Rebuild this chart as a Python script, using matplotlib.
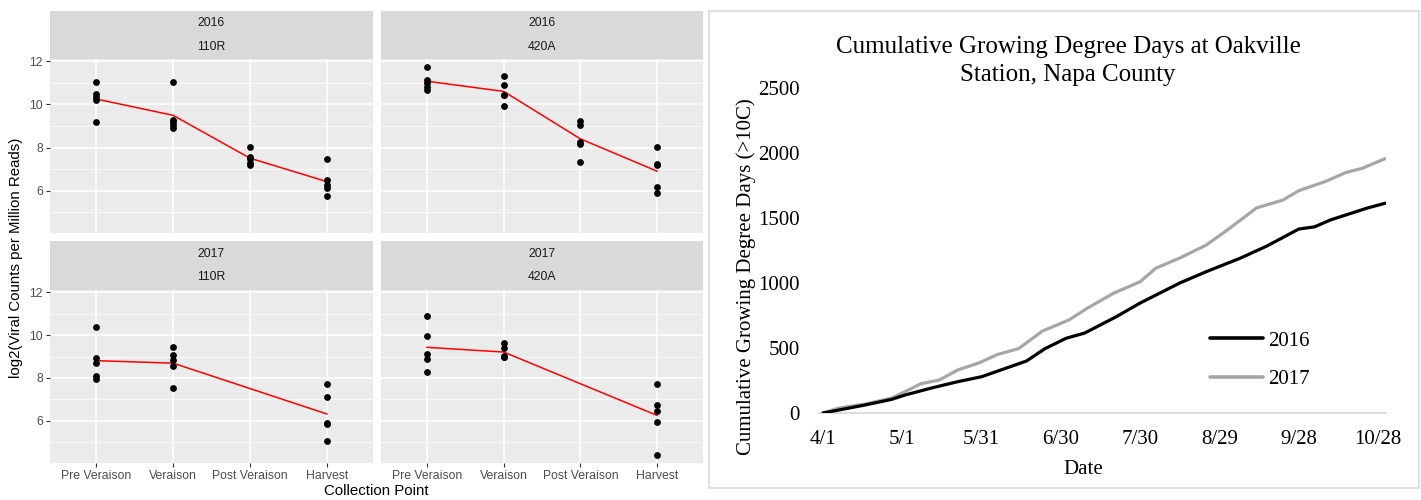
import numpy as np
import matplotlib
matplotlib.use('Agg')
import matplotlib.pyplot as plt
from matplotlib.patches import Rectangle

W, H = 1421, 500

# ---- left: viral load by collection point (facets year x rootstock) ----
stages = ["Pre Veraison", "Veraison", "Post Veraison", "Harvest"]
panel_years = ["2016", "2016", "2017", "2017"]
panel_rootstocks = ["110R", "420A", "110R", "420A"]

# log2 viral counts per million reads, one list per collection point
y16_110r = [[11.03, 10.50, 10.35, 10.20, 9.18],
            [11.03, 9.30, 9.20, 9.05, 8.90],
            [8.02, 7.55, 7.45, 7.30, 7.20],
            [7.48, 6.50, 6.25, 6.10, 5.75]]
y16_420a = [[11.74, 11.15, 11.00, 10.82, 10.68],
            [11.34, 10.89, 10.46, 10.42, 9.92],
            [9.23, 9.03, 8.26, 8.15, 7.34],
            [8.03, 7.23, 7.18, 6.18, 5.89]]
y17_110r = [[10.37, 8.93, 8.70, 8.08, 7.97],
            [9.43, 9.09, 8.85, 8.57, 7.53],
            [],
            [7.72, 7.10, 5.90, 5.83, 5.05]]
y17_420a = [[10.90, 9.98, 9.12, 8.88, 8.28],
            [9.63, 9.40, 9.05, 9.00, 8.98],
            [],
            [7.72, 6.76, 6.45, 5.94, 4.40]]

# ---- right: cumulative GDD, days counted from 4/1 ----
gdd_days_2016 = [0, 6, 16, 26, 31, 41, 51, 60, 69, 77, 84, 89, 92, 99, 111,
                 120, 135, 145, 158, 168, 180, 186, 192, 199, 206, 213]
gdd_2016 = [0, 23, 62, 105, 138, 192, 241, 279, 343, 400, 495, 545, 575, 615,
            741, 846, 1000, 1087, 1192, 1285, 1415, 1432, 1485, 1531, 1577, 1615]
gdd_days_2017 = [0, 6, 16, 26, 31, 37, 44, 51, 59, 66, 74, 83, 93, 100, 110,
                 120, 126, 135, 145, 153, 158, 164, 174, 180, 190, 198, 204, 213]
gdd_2017 = [0, 38, 69, 115, 164, 225, 254, 331, 385, 450, 495, 630, 715, 806,
            922, 1010, 1115, 1192, 1292, 1408, 1485, 1577, 1638, 1710, 1780,
            1851, 1882, 1959]
date_ticks = [0, 30, 60, 90, 120, 150, 180, 210]
date_labels = ["4/1", "5/1", "5/31", "6/30", "7/30", "8/29", "9/28", "10/28"]
gdd_ticks = [0, 500, 1000, 1500, 2000, 2500]

GG_FONT = 'Liberation Sans'
XL_FONT = 'Liberation Serif'


def px_axes(fig, x0, y0, x1, y1):
    """axes placed by pixel box (top-left origin)."""
    return fig.add_axes([x0 / W, 1 - y1 / H, (x1 - x0) / W, (y1 - y0) / H])


fig = plt.figure(figsize=(W / 100, H / 100), dpi=100)

panel_data = [y16_110r, y16_420a, y17_110r, y17_420a]
col_x = [(50, 373), (381, 703)]
row_y = [(11, 59, 233), (241, 290, 463)]
ylo, yhi = 4.03, 12.11

for k, data in enumerate(panel_data):
    r, c = divmod(k, 2)
    x0, x1 = col_x[c]
    s0, p0, p1 = row_y[r]

    strip = px_axes(fig, x0, s0, x1, p0)
    strip.set_facecolor('#D9D9D9')
    strip.set_xticks([]); strip.set_yticks([])
    for sp in strip.spines.values():
        sp.set_visible(False)
    strip.text(0.5, 0.74, panel_years[k], ha='center', va='center',
               fontsize=8.8, color='#1A1A1A', family=GG_FONT, transform=strip.transAxes)
    strip.text(0.5, 0.26, panel_rootstocks[k], ha='center', va='center',
               fontsize=8.8, color='#1A1A1A', family=GG_FONT, transform=strip.transAxes)

    ax = px_axes(fig, x0, p0, x1, p1)
    ax.set_facecolor('#EBEBEB')
    for sp in ax.spines.values():
        sp.set_visible(False)
    ax.set_xlim(-0.6, 3.6)
    ax.set_ylim(ylo, yhi)
    ax.set_xticks(range(len(stages)))
    ax.set_yticks([6, 8, 10, 12])
    ax.set_yticks([5, 7, 9, 11], minor=True)
    ax.grid(which='major', color='white', lw=1.1)
    ax.grid(which='minor', axis='y', color='white', lw=0.55)
    ax.set_axisbelow(True)
    ax.tick_params(which='minor', length=0)
    ax.tick_params(which='major', length=3, width=0.8, color='#333333',
                   labelcolor='#4D4D4D', labelsize=8.8, pad=2)

    if r == 1:
        ax.set_xticklabels(stages, family=GG_FONT)
    else:
        ax.tick_params(axis='x', length=0, labelbottom=False)
    if c == 0:
        ax.set_yticklabels(['6', '8', '10', '12'], family=GG_FONT)
    else:
        ax.tick_params(axis='y', length=0, labelleft=False)

    xs, means = [], []
    for i, vals in enumerate(data):
        if not vals:
            continue
        ax.scatter(np.full(len(vals), i), vals, s=24, color='black',
                   zorder=3, linewidths=0)
        xs.append(i)
        means.append(np.mean(vals))
    ax.plot(xs, means, color='red', lw=1.1, zorder=2)

fig.text(16 / W, 1 - 258 / H, 'log2(Viral Counts per Million Reads)', rotation=90,
         ha='center', va='center', fontsize=10.8, family=GG_FONT)
fig.text(376.5 / W, 1 - 491 / H, 'Collection Point', ha='center', va='center',
         fontsize=10.8, family=GG_FONT)

# ---- right chart ----
fig.add_artist(Rectangle((709 / W, 1 - 488 / H), (1419 - 709) / W, (488 - 11) / H,
                         transform=fig.transFigure, fill=False,
                         edgecolor='#D9D9D9', lw=1.2))

px_per_day = 2.643
gx = px_axes(fig, 823 - 1.5 * px_per_day, 88, 823 + 213 * px_per_day, 413)
gx.set_xlim(-1.5, 213)
gx.set_ylim(0, 2500)
gx.plot(gdd_days_2016, gdd_2016, color='black', lw=2.3, label='2016',
        solid_capstyle='round', zorder=3)
gx.plot(gdd_days_2017, gdd_2017, color='#A6A6A6', lw=2.3, label='2017',
        solid_capstyle='round', zorder=2)
for side in ('top', 'right', 'left'):
    gx.spines[side].set_visible(False)
gx.spines['bottom'].set_color('#D9D9D9')
gx.spines['bottom'].set_linewidth(1.3)
gx.set_xticks(date_ticks)
gx.set_xticklabels(date_labels, family=XL_FONT, fontsize=15)
gx.set_yticks(gdd_ticks)
gx.set_yticklabels([str(v) for v in gdd_ticks], family=XL_FONT, fontsize=15)
gx.tick_params(axis='x', length=0, pad=12)
gx.tick_params(axis='y', length=0, pad=14)
gx.set_facecolor('none')

leg = gx.legend(loc='upper left', bbox_to_anchor=(1210 / W, 1 - 331 / H),
                bbox_transform=fig.transFigure, frameon=False, borderpad=0,
                borderaxespad=0, handlelength=2.55, handletextpad=0.25,
                labelspacing=0.9, prop={'family': XL_FONT, 'size': 15})
for line in leg.get_lines():
    line.set_linewidth(2.6)

fig.text(1068 / W, 1 - 61 / H,
         'Cumulative Growing Degree Days at Oakville\nStation, Napa County',
         ha='center', va='center', fontsize=18, family=XL_FONT, linespacing=1.34)
fig.text(746 / W, 1 - 277 / H, 'Cumulative Growing Degree Days (>10C)', rotation=90,
         ha='center', va='center', fontsize=15, family=XL_FONT)
fig.text(1083 / W, 1 - 470 / H, 'Date', ha='center', va='center',
         fontsize=15, family=XL_FONT)

fig.savefig('out.png', dpi=100)
